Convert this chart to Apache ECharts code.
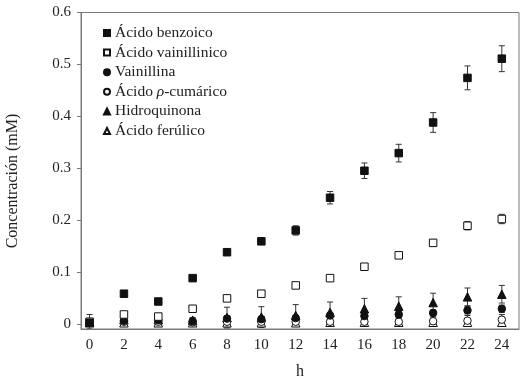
<!DOCTYPE html>
<html>
<head>
<meta charset="utf-8">
<script src="https://cdn.jsdelivr.net/npm/echarts@6/dist/echarts.min.js"></script>
<style>html,body{margin:0;padding:0;background:#fff}#c{width:523px;height:385px}</style>
</head>
<body>
<div id="c"></div>
<script>
const hours = [0, 2, 4, 6, 8, 10, 12, 14, 16, 18, 20, 22, 24];
const xTicks = [0, 2, 4, 6, 8, 10, 12, 14, 16, 18, 20, 22, 24];
const yTicks = [0, 0.1, 0.2, 0.3, 0.4, 0.5, 0.6];

const benzoico = [0.002, 0.058, 0.043, 0.088, 0.138, 0.159, 0.180, 0.243, 0.295, 0.329, 0.388, 0.474, 0.511];
const benzoicoErr = [0.002, 0.003, 0.003, 0.003, 0.005, 0.006, 0.009, 0.012, 0.015, 0.017, 0.019, 0.023, 0.025];
const vainillinico = [0.004, 0.018, 0.014, 0.029, 0.049, 0.058, 0.074, 0.088, 0.110, 0.132, 0.156, 0.189, 0.202];
const vainillinicoErr = [0.002, 0.003, 0.004, 0.003, 0.003, 0.003, 0.003, 0.003, 0.003, 0.004, 0.006, 0.008, 0.009];
const vainillina = [0.003, 0.006, 0.007, 0.005, 0.010, 0.009, 0.011, 0.016, 0.015, 0.018, 0.021, 0.026, 0.029];
const vainillinaErr = [0.003, 0.004, 0.004, 0.004, 0.005, 0.005, 0.005, 0.006, 0.006, 0.006, 0.006, 0.007, 0.007];
const cumarico = [0.003, 0.004, 0.004, 0.003, 0.004, 0.004, 0.004, 0.004, 0.004, 0.004, 0.005, 0.006, 0.008];
const cumaricoErr = [0.003, 0.004, 0.004, 0.004, 0.005, 0.005, 0.005, 0.006, 0.006, 0.007, 0.008, 0.010, 0.010];
const hidroquinona = [0.004, 0.008, 0.008, 0.007, 0.012, 0.013, 0.016, 0.022, 0.029, 0.034, 0.041, 0.052, 0.057];
const hidroquinonaErr = [0.014, 0.005, 0.005, 0.005, 0.020, 0.020, 0.021, 0.020, 0.020, 0.018, 0.018, 0.017, 0.017];
const ferulico = [0.002, 0.002, 0.002, 0.002, 0.002, 0.002, 0.002, 0.003, 0.003, 0.003, 0.003, 0.003, 0.003];
const ferulicoErr = [0.002, 0.002, 0.002, 0.002, 0.003, 0.003, 0.003, 0.003, 0.003, 0.003, 0.003, 0.003, 0.003];

const names = ['Ácido benzoico', 'Ácido vainillinico', 'Vainillina', 'Ácido ρ-cumárico', 'Hidroquinona', 'Ácido ferúlico'];

const FONT = '"Liberation Serif", "DejaVu Serif", serif';
const AXIS = '#7a7a7a';

function pts(vals) { return hours.map((h, i) => [h, vals[i]]); }
function errPts(vals, errs) { return hours.map((h, i) => [h, vals[i], errs[i]]); }

function errRender(params, api) {
  const x = api.value(0), y = api.value(1), e = api.value(2);
  const hi = api.coord([x, y + e]);
  const lo = api.coord([x, y - e]);
  const w = 3;
  const st = { stroke: '#333', lineWidth: 1 };
  return {
    type: 'group',
    children: [
      { type: 'line', shape: { x1: hi[0], y1: hi[1], x2: lo[0], y2: lo[1] }, style: st },
      { type: 'line', shape: { x1: hi[0] - w, y1: hi[1], x2: hi[0] + w, y2: hi[1] }, style: st },
      { type: 'line', shape: { x1: lo[0] - w, y1: lo[1], x2: lo[0] + w, y2: lo[1] }, style: st }
    ]
  };
}

const specs = [
  { name: names[0], v: benzoico, e: benzoicoErr, symbol: 'rect', size: 7.5, fill: '#111' },
  { name: names[1], v: vainillinico, e: vainillinicoErr, symbol: 'rect', size: 7.5, fill: '#fff' },
  { name: names[2], v: vainillina, e: vainillinaErr, symbol: 'circle', size: 7.5, fill: '#111' },
  { name: names[3], v: cumarico, e: cumaricoErr, symbol: 'circle', size: 7.5, fill: '#fff' },
  { name: names[4], v: hidroquinona, e: hidroquinonaErr, symbol: 'triangle', size: 8.5, fill: '#111' },
  { name: names[5], v: ferulico, e: ferulicoErr, symbol: 'triangle', size: 8.5, fill: '#fff' }
];

const series = [];
specs.forEach((s, i) => {
  series.push({
    name: 'err' + i, type: 'custom', renderItem: errRender,
    data: errPts(s.v, s.e), z: 1, clip: true, silent: true
  });
});
specs.slice().reverse().forEach((s) => {
  series.push({
    name: s.name, type: 'scatter', data: pts(s.v), symbol: s.symbol, symbolSize: s.size,
    itemStyle: { color: s.fill, borderColor: '#111', borderWidth: 1, opacity: 1 },
    z: 3
  });
});

const chart = echarts.init(document.getElementById('c'), null, { renderer: 'canvas' });
chart.setOption({
  animation: false,
  backgroundColor: '#fff',
  grid: { left: 81, right: 4, top: 12.5, bottom: 48, show: true, borderColor: AXIS, borderWidth: 1, backgroundColor: 'transparent' },
  legend: {
    data: names,
    orient: 'vertical', left: 103, top: 25, padding: 0,
    itemWidth: 6, itemHeight: 6, itemGap: 3.6,
    textStyle: {
      fontFamily: FONT, fontSize: 15.5, color: '#222', lineHeight: 14,
      rich: {
        a: { fontFamily: FONT, fontSize: 15.5, color: '#222', lineHeight: 14 },
        i: { fontFamily: FONT, fontSize: 15.5, color: '#222', fontStyle: 'italic', lineHeight: 14 }
      }
    },
    formatter: function (n) {
      if (n === names[3]) return '{a|Ácido }{i|ρ}{a|-cumárico}';
      return n;
    }
  },
  xAxis: {
    type: 'value', min: -0.5, max: 25,
    name: 'h', nameLocation: 'middle', nameGap: 35,
    nameTextStyle: { fontFamily: FONT, fontSize: 16, color: '#222' },
    axisLine: { show: true, onZero: false, lineStyle: { color: AXIS, width: 1 } },
    axisTick: { show: false },
    splitLine: { show: false },
    axisLabel: { customValues: xTicks, fontFamily: FONT, fontSize: 15, color: '#222', margin: 9 }
  },
  yAxis: {
    type: 'value', min: -0.01, max: 0.6,
    axisLine: { show: true, onZero: false, lineStyle: { color: AXIS, width: 1 } },
    axisTick: { show: true, customValues: yTicks, length: 4, lineStyle: { color: AXIS } },
    splitLine: { show: false },
    axisLabel: { customValues: yTicks, fontFamily: FONT, fontSize: 15, color: '#222', margin: 10 }
  },
  graphic: [{
    type: 'text', x: 13, y: 181, rotation: Math.PI / 2,
    style: { text: 'Concentración (mM)', fontFamily: FONT, fontSize: 16, fill: '#222', align: 'center', verticalAlign: 'middle' }
  }],
  series: series
});
</script>
</body>
</html>
